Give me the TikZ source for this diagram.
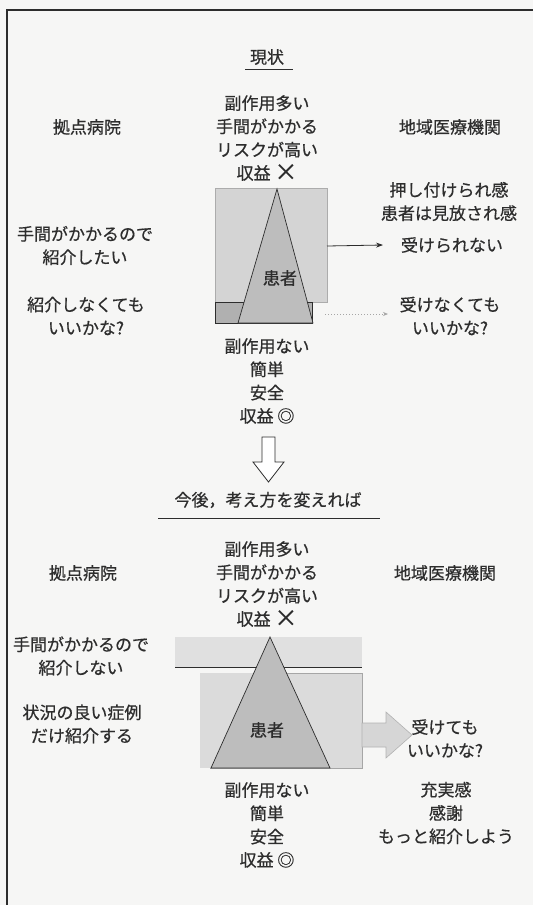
\documentclass[tikz,border=0pt]{standalone}
\usepackage{fontspec}
\setmainfont{Noto Sans CJK JP}[FakeBold=0.6]
\usetikzlibrary{arrows.meta}
\definecolor{paper}{RGB}{246,246,245}
\definecolor{ink}{RGB}{45,45,45}
\newcommand{\bigx}{\raisebox{-0.05em}{\scalebox{1.35}{×}}}
\tikzset{
  lbl/.style={align=center, text=ink, inner sep=0pt, font=\fontsize{17}{23.3}\selectfont},
  frameline/.style={draw=ink, line width=1.4pt},
  boxfill/.style={fill=gray!34, draw=gray!65, line width=0.6pt},
  trifill/.style={fill=gray!52, draw=ink, line width=0.7pt},
  stripfill/.style={fill=gray!62, draw=ink, line width=0.7pt},
  bandfill/.style={fill=gray!24, draw=none},
  thinarrow/.style={draw=ink, line width=0.8pt, -{Stealth[length=7pt,width=5pt]}},
  faintarrow/.style={draw=gray!70, line width=1pt, dotted, -{Stealth[length=5pt,width=4pt]}},
  blockarrow/.style={fill=gray!32, draw=gray!60, line width=0.6pt},
  hollowarrow/.style={fill=white, draw=ink, line width=0.8pt}
}
\begin{document}
\begin{tikzpicture}[x=1pt,y=-1pt]
\useasboundingbox (0,0) rectangle (533,905);
\fill[paper] (0,0) rectangle (533,905);
% frame
\draw[frameline] (7,905) -- (7,10) -- (533,10);

% ===== upper section =====
\node[lbl] (title1) at (267,57) {現状};
\draw[draw=ink, line width=0.9pt] (245,69) -- (293,69);

\node[lbl] (topq1) at (267,138) {副作用多い\\手間がかかる\\リスクが高い\\収益 \bigx};
\node[lbl] (lh1) at (87,127) {拠点病院};
\node[lbl] (rh1) at (450,127) {地域医療機関};
\node[lbl] (r1) at (449,201.5) {押し付けられ感\\患者は見放され感};
\node[lbl] (r2) at (452,245) {受けられない};
\node[lbl] (l1) at (85,245.5) {手間がかかるので\\紹介したい};
\node[lbl] (l2) at (86,316) {紹介しなくても\\いいかな?};
\node[lbl] (r3) at (450,316) {受けなくても\\いいかな?};

% shapes
\path[boxfill] (215,188) rectangle (327,302);
\path[stripfill] (215,302) rectangle (312,323);
\path[trifill] (277,189) -- (313,323) -- (238,323) -- cycle;
\node[lbl] (pat1) at (280,278) {患者};
\coordinate (box1r) at (327,246);
\coordinate (strip1r) at (325,314);
\coordinate (r3l) at (388,314);
\draw[thinarrow] (box1r) -- (r2.west -| 383,0);
\draw[faintarrow] (strip1r) -- (r3l);

\node[lbl] (bot1) at (267,381) {副作用ない\\簡単\\安全\\収益 ◎};

% down arrow
\path[hollowarrow] (262,437) -- (275,437) -- (275,462) -- (284,462) -- (268.5,482) -- (253,462) -- (262,462) -- cycle;

% ===== lower section =====
\node[lbl] (title2) at (268,500) {今後，考え方を変えれば};
\draw[draw=ink, line width=0.9pt] (158,518) -- (380,518);

\node[lbl] (topq2) at (267,584) {副作用多い\\手間がかかる\\リスクが高い\\収益 \bigx};
\node[lbl] (lh2) at (83,573) {拠点病院};
\node[lbl] (rh2) at (445,573) {地域医療機関};
\node[lbl] (l3) at (81,656) {手間がかかるので\\紹介しない};
\node[lbl] (l4) at (82,724) {状況の良い症例\\だけ紹介する};
\node[lbl] (r4) at (445,738.5) {受けても\\いいかな?};
\node[lbl] (r5) at (446,813) {充実感\\感謝\\もっと紹介しよう};
\node[lbl] (bot2) at (267,825) {副作用ない\\簡単\\安全\\収益 ◎};

% shapes
\path[bandfill] (175,637) rectangle (362,667);
\draw[draw=ink, line width=0.8pt] (175,667) -- (362,667);
\path[fill=gray!28] (200,673) rectangle (362,768);
\draw[draw=gray!70, line width=0.7pt] (262,673) -- (362,673) -- (362,768) -- (210,768);
\path[trifill] (270,637) -- (330,768) -- (211,768) -- cycle;
\node[lbl] (pat2) at (267,730) {患者};
\path[blockarrow] (362,723) -- (386,723) -- (386,712) -- (412,735) -- (386,758) -- (386,747) -- (362,747) -- cycle;
\end{tikzpicture}
\end{document}
